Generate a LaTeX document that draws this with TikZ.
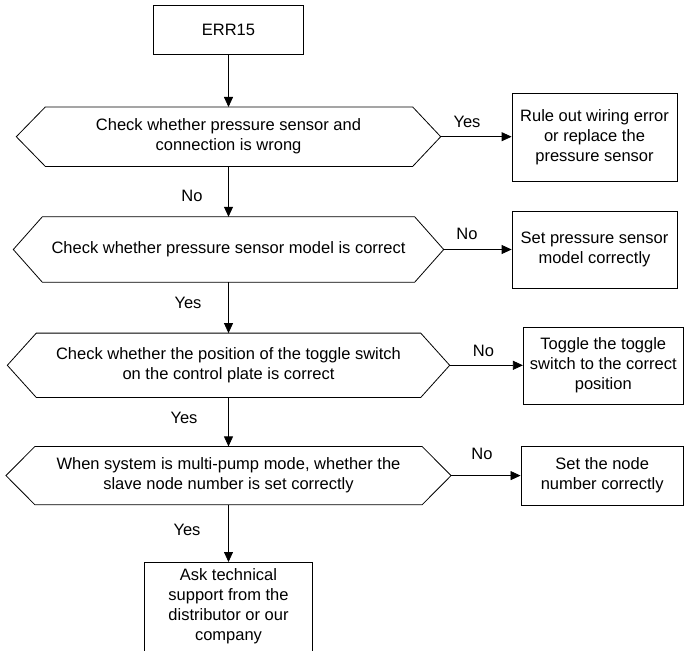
\documentclass[tikz,border=0pt]{standalone}
\usepackage{fontspec}
\setmainfont{Liberation Sans}
\usetikzlibrary{arrows.meta,calc}
\tikzset{
  base/.style={font=\fontsize{16.5}{20}\selectfont, align=center, inner sep=0pt},
  box/.style={base, draw, line width=0.8pt},
  hexn/.style={base},
  lbl/.style={font=\fontsize{16.5}{20}\selectfont, inner sep=0pt},
  arr/.style={line width=0.8pt, -{Triangle[length=10pt,width=9pt]}},
  hexline/.style={line width=0.8pt}
}
\newcommand{\hexa}[3]{%
  \draw[hexline] (#1.west) -- ($(#1.north west)+(#2,0)$) -- ($(#1.north east)+(-#3,0)$) -- (#1.east) -- ($(#1.south east)+(-#3,0)$) -- ($(#1.south west)+(#2,0)$) -- cycle;}
\begin{document}
\begin{tikzpicture}[x=1pt,y=-1pt]
\clip (0,0) rectangle (684,650);
\fill[white] (0,0) rectangle (684,650);
% main column
\node[box, minimum width=150, minimum height=49] (err) at (228.5,29.5) {ERR15};
\node[hexn, minimum width=424, minimum height=59] (h1) at (228.5,136.7) {Check whether pressure sensor and\\connection is wrong};
\hexa{h1}{29}{28}
\node[hexn, minimum width=430, minimum height=65] (h2) at (228.5,249.5) {Check whether pressure sensor model is correct};
\hexa{h2}{29}{29}
\node[hexn, minimum width=442, minimum height=64] (h3) at (228.5,365.3) {Check whether the position of the toggle switch\\on the control plate is correct};
\hexa{h3}{29}{29}
\node[hexn, minimum width=444.7, minimum height=58] (h4) at (228.5,475.6) {When system is multi-pump mode, whether the\\slave node number is set correctly};
\hexa{h4}{29}{29}
\node[base, minimum width=167, minimum height=88, anchor=north] (fin) at (228.5,562) {Ask technical\\support from the\\distributor or our\\company};
\draw[line width=0.8pt] ($(fin.south west)+(0,10)$) -- (fin.north west) -- (fin.north east) -- ($(fin.south east)+(0,10)$);
% right boxes
\node[box, minimum width=165, minimum height=88] (b1) at (594.5,137) {Rule out wiring error\\or replace the\\pressure sensor};
\node[box, minimum width=165, minimum height=77] (b2) at (594.5,249.5) {Set pressure sensor\\model correctly};
\node[box, minimum width=160, minimum height=77] (b3) at (603.3,365.5) {Toggle the toggle\\switch to the correct\\position};
\node[box, minimum width=162.5, minimum height=59] (b4) at (602.2,475.6) {Set the node\\number correctly};
% connectors
\draw[arr] (err) -- (h1);
\draw[arr] (h1) -- (h2);
\draw[arr] (h2) -- (h3);
\draw[arr] (h3) -- (h4);
\draw[arr] (h4) -- (fin);
\draw[arr] (h1.east) -- (h1.east -| b1.west);
\draw[arr] (h2.east) -- (h2.east -| b2.west);
\draw[arr] (h3.east) -- (h3.east -| b3.west);
\draw[arr] (h4.east) -- (h4.east -| b4.west);
% labels
\node[lbl] (l1) at (467,122) {Yes};
\node[lbl] (l2) at (192,196) {No};
\node[lbl] (l3) at (467,234) {No};
\node[lbl] (l4) at (188,303) {Yes};
\node[lbl] (l5) at (483.5,351) {No};
\node[lbl] (l6) at (184,418) {Yes};
\node[lbl] (l7) at (482,454) {No};
\node[lbl] (l8) at (187,530) {Yes};
\end{tikzpicture}
\end{document}
